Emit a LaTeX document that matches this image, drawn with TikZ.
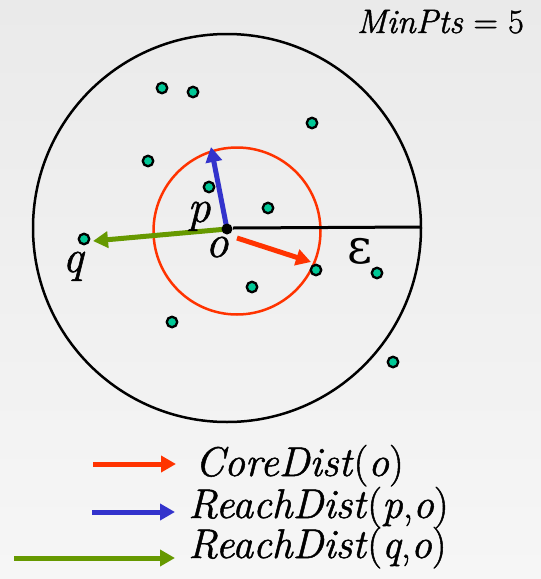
\documentclass[tikz,border=0pt]{standalone}
\usepackage{fontspec}
\newfontfamily\tms{Latin Modern Roman}[FakeBold=1.2]
\newfontfamily\grk{DejaVu Serif}
\usetikzlibrary{arrows.meta}
\definecolor{ptfill}{RGB}{0,200,150}
\definecolor{cred}{RGB}{255,51,0}
\definecolor{cblue}{RGB}{51,51,204}
\definecolor{cgreen}{RGB}{102,153,0}
\definecolor{bgtop}{RGB}{234,234,234}
\definecolor{bgbot}{RGB}{246,246,246}
\begin{document}
\begin{tikzpicture}[x=1pt,y=-1pt,
  pt/.style={circle,draw=black,line width=2.3pt,fill=ptfill,inner sep=0pt,minimum size=10.5pt},
  lbl/.style={inner sep=0pt,anchor=base,font=\tms\fontsize{46}{46}\selectfont\itshape},
  leg/.style={inner sep=0pt,anchor=base west,font=\tms\fontsize{41.5}{41.5}\selectfont},
  arr/.style={line width=5pt,-{Triangle[length=15pt,width=16pt]}}]
\shade[top color=bgtop,bottom color=bgbot] (0,0) rectangle (541,579);
\useasboundingbox (0,0) rectangle (541,579);
% circles
\draw[black,line width=2.5pt] (227,228) circle[radius=194];
\draw[cred,line width=2.5pt] (237,231) circle[radius=83.5];
% points
\node[pt] (a1) at (162,88) {};
\node[pt] (a2) at (193,92) {};
\node[pt] (a3) at (312,123) {};
\node[pt] (a4) at (148,161) {};
\node[pt] (a5) at (209,187) {};
\node[pt] (a6) at (268,208) {};
\node[pt] (a7) at (316,270) {};
\node[pt] (a8) at (377,273) {};
\node[pt] (a9) at (252,287) {};
\node[pt] (a10) at (172,322) {};
\node[pt] (a11) at (393,362) {};
\node[pt] (q) at (84,239) {};
% center o
\coordinate (oc) at (227,229);
\coordinate (eps) at (421,227);
\coordinate (ptip) at (211,147);
\coordinate (ctip) at (311,262);
\coordinate (qtip) at (93,241);
\coordinate (cst) at (237,238);
\coordinate (est) at (233,228);
\draw[black,line width=3pt] (est) -- (eps);
\draw[arr,cred] (cst) -- (ctip);
\draw[arr,cblue] (oc) -- (ptip);
\draw[arr,cgreen] (oc) -- (qtip);
\node[circle,fill=black,inner sep=0pt,minimum size=11pt] (o) at (oc) {};
% labels
\node[lbl] (lp) at (199,222) {p};
\node[lbl] (lo) at (217,257) {o};
\node[lbl] (lq) at (73,272) {q};
\node[inner sep=0pt,anchor=base,font=\grk\fontsize{48}{48}\selectfont] (le) at (360,263) {ε};
\node[inner sep=0pt,anchor=base east,font=\tms\fontsize{34}{34}\selectfont] (mp) at (524,33) {\textit{MinPts} = 5};
% legend
\coordinate (r1) at (93,464); \coordinate (r2) at (176,464);
\coordinate (b1) at (92,512); \coordinate (b2) at (175,512);
\coordinate (g1) at (14,558); \coordinate (g2) at (175,558);
\draw[arr,cred] (r1) -- (r2);
\draw[arr,cblue] (b1) -- (b2);
\draw[arr,cgreen] (g1) -- (g2);
\node[leg] (t1) at (195,476) {\textit{CoreDist}(\textit{o})};
\node[leg] (t2) at (188,518) {\textit{ReachDist}(\textit{p},\textit{o})};
\node[leg] (t3) at (188,558) {\textit{ReachDist}(\textit{q},\textit{o})};
\end{tikzpicture}
\end{document}
